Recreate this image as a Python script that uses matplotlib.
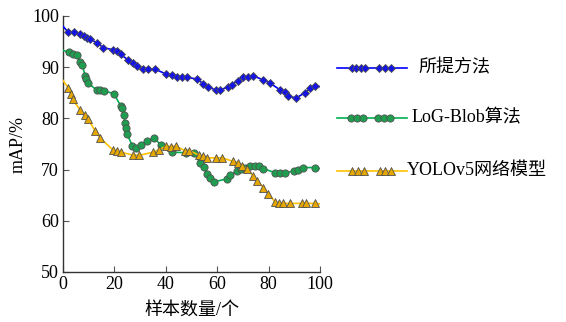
import numpy as np
import matplotlib
matplotlib.use('Agg')
import matplotlib.pyplot as plt
from matplotlib.lines import Line2D

plt.rcParams['font.family'] = ['Liberation Serif', 'Noto Sans CJK SC']
plt.rcParams['mathtext.fontset'] = 'stix'

# 所提方法
x_ours = [0, 2.1, 4.3, 6.6, 8.2, 9.5, 10.5, 13.4, 15.7, 19.6, 21.1, 22.4, 25.4, 27.4, 28.7,
          31.0, 33.2, 35.8, 40.0, 42.3, 44.2, 46.4, 48.4, 52.0, 54.6, 56.5, 59.4, 61.1,
          64.3, 65.6, 68.2, 70.2, 72.1, 74.1, 78.0, 80.5, 84.4, 86.4, 87.7, 90.7, 94.2,
          96.1, 98.1, 100]
y_ours = [98.0, 96.8, 96.8, 96.4, 96.1, 95.8, 95.5, 94.7, 93.8, 93.4, 93.1, 92.5, 91.4, 90.9,
          90.3, 89.6, 89.6, 89.6, 88.7, 88.4, 88.0, 88.0, 88.0, 87.7, 86.8, 86.2, 85.5, 85.6,
          86.1, 86.6, 87.4, 88.1, 88.1, 88.3, 87.5, 86.9, 85.6, 85.1, 84.3, 84.0, 85.0,
          85.9, 86.4, 86.2]

# LoG-Blob算法
x_log = [0, 2.3, 4.0, 5.3, 6.6, 7.5, 8.6, 9.0, 9.9, 13.1, 14.4, 16.1, 19.8, 22.4, 22.8, 23.7,
         24.1, 24.5, 24.8, 27.0, 28.3, 30.2, 32.6, 35.4, 38.1, 42.3, 47.9, 51.1, 53.3,
         54.9, 55.9, 57.2, 58.8, 63.7, 65.0, 67.8, 69.1, 70.8, 72.8, 74.7, 76.4, 77.9,
         82.5, 84.4, 86.4, 89.9, 91.3, 93.5, 98.1, 100]
y_log = [93.3, 92.9, 92.6, 92.4, 91.1, 90.5, 88.3, 87.7, 86.9, 85.5, 85.5, 85.4, 84.8, 82.5,
         82.0, 80.6, 79.1, 78.2, 77.0, 74.7, 74.3, 74.8, 75.5, 76.2, 74.8, 73.4, 73.3, 73.3,
         71.3, 70.6, 69.1, 68.3, 67.6, 68.2, 68.9, 69.7, 70.2, 70.4, 70.8, 70.8, 70.7, 70.2,
         69.4, 69.4, 69.4, 69.7, 70.0, 70.4, 70.4, 70.2]

# YOLOv5网络模型
x_yolo = [0, 2.1, 3.1, 3.8, 6.6, 8.6, 9.9, 12.4, 14.4, 19.3, 20.9, 22.6, 27.4, 29.7, 35.1,
          37.5, 40.1, 41.9, 43.8, 47.5, 49.1, 53.0, 54.6, 55.9, 59.5, 61.8, 66.3, 68.2,
          69.5, 71.5, 74.1, 75.6, 78.0, 79.9, 82.5, 84.2, 85.7, 88.3, 92.9, 94.6, 98.1, 100]
y_yolo = [87.4, 85.9, 84.8, 83.7, 81.7, 80.7, 79.8, 77.6, 76.2, 73.9, 73.6, 73.4, 72.8, 72.8,
          73.4, 73.9, 74.6, 74.5, 74.6, 73.7, 73.7, 72.8, 72.6, 72.3, 72.3, 72.3, 71.6, 71.3,
          70.8, 70.2, 68.7, 67.8, 66.5, 65.3, 63.7, 63.4, 63.4, 63.4, 63.4, 63.4, 63.4, 63.3]

names = ['所提方法', 'LoG-Blob算法', 'YOLOv5网络模型']
line_colors = ['#0000ff', '#00b050', '#ffc000']
face_colors = ['#1414e6', '#1f9e4f', '#e6a700']
markers = ['D', 'o', '^']
msizes = [3.6, 5.2, 5.4]

fig = plt.figure(figsize=(5.66, 3.22), dpi=100)
ax = fig.add_axes([63 / 566, 50 / 322, 257 / 566, 256 / 322])

series = [(x_ours, y_ours), (x_log, y_log), (x_yolo, y_yolo)]
for (xs, ys), lc, fc, m, ms in zip(series, line_colors, face_colors, markers, msizes):
    ax.plot(xs, ys, color=lc, lw=1.2, marker=m, ms=ms, mfc=fc, mec='#505050', mew=0.6,
            markevery=list(range(1, len(xs) - 1)), zorder=3)

ax.set_xlim(0, 100)
ax.set_ylim(50, 100)
ax.set_xticks([0, 20, 40, 60, 80, 100])
ax.set_yticks([50, 60, 70, 80, 90, 100])
ax.spines['top'].set_visible(False)
ax.spines['right'].set_visible(False)
for s in ['left', 'bottom']:
    ax.spines[s].set_color('#333333')
    ax.spines[s].set_linewidth(1.0)
ax.tick_params(direction='in', length=4, width=0.8, color='#555555', labelsize=13, pad=3)
ax.set_xlabel('样本数量/个', fontsize=13, labelpad=6)
ax.set_ylabel('mAP/%', fontsize=13, labelpad=4)

# hand-made legend on the right
leg_y = [1 - 67.7 / 322, 1 - 117.7 / 322, 1 - 170.5 / 322]
leg_marks = [[352, 356, 360.5, 365, 379, 384.5, 391],
             [351, 357, 363, 377.5, 383.5, 389.5],
             [352, 357.5, 363.5, 379.5, 385, 390.5]]
text_x = [418, 412, 407]
for i in range(3):
    y = leg_y[i]
    fig.add_artist(Line2D([337 / 566, 407 / 566], [y, y], color=line_colors[i], lw=1.2))
    mx = [v / 566 for v in leg_marks[i]]
    fig.add_artist(Line2D(mx, [y] * len(mx), ls='none', marker=markers[i], ms=msizes[i],
                          mfc=face_colors[i], mec='#505050', mew=0.6))
    fig.text(text_x[i] / 566, y, names[i], fontsize=13, va='center', ha='left')

fig.savefig('out.png', dpi=100)
